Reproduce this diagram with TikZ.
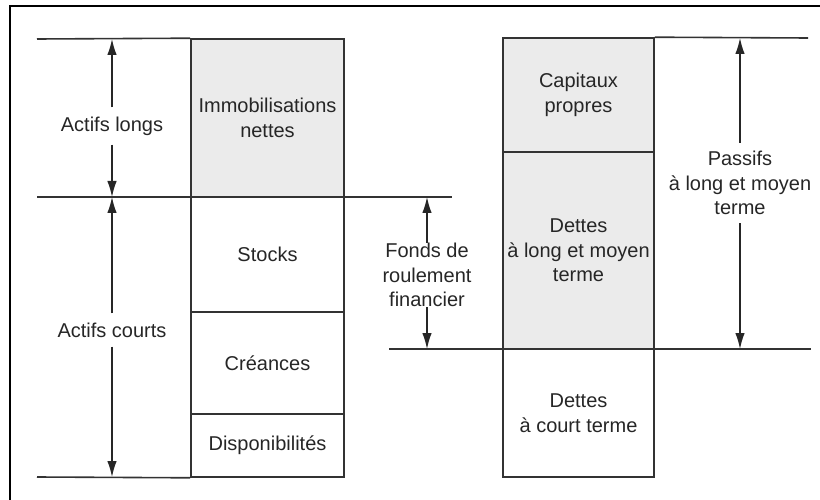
\documentclass[tikz,border=0pt]{standalone}
\usepackage{fontspec}
\setmainfont{Liberation Sans}
\usetikzlibrary{arrows.meta}

\tikzset{
  rule/.style={line width=1.6pt,draw=black!80},
  cell/.style={rule,rectangle,align=center,inner sep=0pt,text=black!85},
  lbl/.style={align=center,inner xsep=2pt,inner ysep=9pt,text=black!85},
  dim/.style={line width=1.3pt,draw=black!85,-{Latex[length=16pt,width=9.5pt]}},
}

\begin{document}
\begin{tikzpicture}[x=1pt,y=-1pt,font=\fontsize{20}{24.5}\selectfont]
\useasboundingbox (0,0) rectangle (820,500);
% frame
\draw[line width=2.2pt] (10,500) -- (10,6) -- (820,6);
%
% actif
\node[cell,fill=black!8,minimum width=153pt,minimum height=158pt] (immo) at (267.5,118) {Immobilisations\\nettes};
\node[cell,minimum width=153pt,minimum height=115pt] (stocks) at (267.5,254.5) {Stocks};
\node[cell,minimum width=153pt,minimum height=102pt] (creances) at (267.5,363) {Créances};
\node[cell,minimum width=153pt,minimum height=63pt] (dispo) at (267.5,445.5) {Disponibilités};
%
% passif
\node[cell,fill=black!8,minimum width=151pt,minimum height=114pt] (capi) at (578.5,95) {Capitaux\\propres};
\node[cell,fill=black!8,minimum width=151pt,minimum height=197pt] (dlmt) at (578.5,250.5) {Dettes\\à long et moyen\\terme};
\node[cell,minimum width=151pt,minimum height=128pt] (dct) at (578.5,413) {Dettes\\à court terme};
%
% horizontal levels
\coordinate (tl) at (37,39);
\coordinate (ml) at (37,197);
\coordinate (mr) at (452,197);
\coordinate (bl) at (37,477);
\coordinate (tr) at (808,38);
\coordinate (ll) at (389,349);
\coordinate (lr) at (811,349);
\draw[rule] (tl) -- (immo.north west);
\draw[rule] (ml) -- (mr);
\draw[rule] (bl) -- (dispo.south west);
\draw[rule] (capi.north east) -- (tr);
\draw[rule] (ll) -- (lr);
%
% dimension arrows
\node[lbl] (along) at (112,126) {Actifs longs};
\node[lbl] (acourt) at (112,330) {Actifs courts};
\node[lbl,inner ysep=0pt] (frf) at (427,275) {Fonds de\\roulement\\financier};
\node[lbl,inner ysep=8pt] (plmt) at (740,183) {Passifs\\à long et moyen\\terme};
\coordinate (along-t) at (112,39);
\coordinate (along-b) at (112,197);
\coordinate (acourt-t) at (112,197);
\coordinate (acourt-b) at (112,477);
\coordinate (frf-t) at (427,197);
\coordinate (frf-b) at (427,349);
\coordinate (plmt-t) at (740,38);
\coordinate (plmt-b) at (740,349);
\foreach \n in {along,acourt,frf,plmt}{
\draw[dim] (\n) -- (\n-t);
\draw[dim] (\n) -- (\n-b);
}
\end{tikzpicture}
\end{document}
